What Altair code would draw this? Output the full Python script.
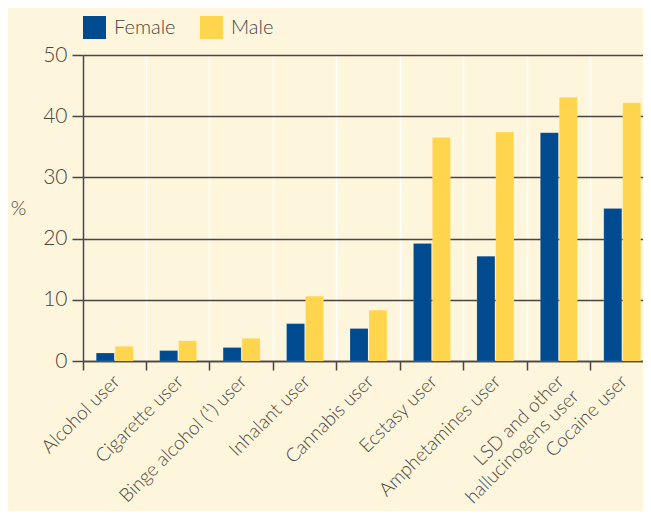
import altair as alt
import pandas as pd

categories = ["Alcohol user", "Cigarette user", "Binge alcohol (¹) user", "Inhalant user",
              "Cannabis user", "Ecstasy user", "Amphetamines user",
              "LSD and other\nhallucinogens user", "Cocaine user"]
female = [1.3, 1.7, 2.2, 6.1, 5.3, 19.2, 17.1, 37.3, 24.9]
male = [2.4, 3.3, 3.7, 10.6, 8.3, 36.5, 37.4, 43.1, 42.2]
groups = ["Female", "Male"]
colors = ["#004a8f", "#ffd54d"]
y_ticks = [0, 10, 20, 30, 40, 50]

rows = []
for c, f, m in zip(categories, female, male):
    rows.append({"cat": c, "sex": "Female", "val": f})
    rows.append({"cat": c, "sex": "Male", "val": m})
df = pd.DataFrame(rows)

TXT = "#4a4642"
FONT = "Lato"
W = 300

chart = alt.Chart(df).mark_bar(stroke="#ffffff", strokeOpacity=0.25, strokeWidth=0.5).encode(
    x=alt.X("cat:N", sort=categories, title=None,
            scale=alt.Scale(paddingInner=0, paddingOuter=0),
            axis=alt.Axis(bandPosition=0, labelAngle=-45, labelAlign="right", labelBaseline="middle",
                          labelOffset=2, labelPadding=8, labelFontSize=19, labelColor=TXT, labelFont=FONT,
                          labelFontWeight=W,
                          labelExpr="split(datum.label, '\\n')", labelLineHeight=21,
                          grid=True, gridColor="#ffffff", gridWidth=1.5,
                          tickColor=TXT, tickSize=9, tickWidth=1.5,
                          domainColor=TXT, domainWidth=1.5)),
    xOffset=alt.XOffset("sex:N", sort=groups,
                        scale=alt.Scale(paddingInner=0.05, paddingOuter=0.7)),
    y=alt.Y("val:Q", title="%",
            scale=alt.Scale(domain=[0, 50], nice=False),
            axis=alt.Axis(values=y_ticks, labelFontSize=21, labelColor=TXT, labelFont=FONT,
                          labelFontWeight=W,
                          labelPadding=5, tickSize=11, tickColor=TXT, tickWidth=1.5,
                          domainColor=TXT, domainWidth=1.5,
                          grid=True, gridColor="#4a4540", gridWidth=1.3,
                          titleAngle=0, titleX=-65, titleY=153, titleAlign="center",
                          titleBaseline="middle", titleFontSize=20, titleFontWeight=W,
                          titleColor=TXT, titleFont=FONT)),
    color=alt.Color("sex:N", sort=groups,
                    scale=alt.Scale(domain=groups, range=colors),
                    legend=alt.Legend(title=None, orient="none", legendX=0, legendY=-39,
                                      direction="horizontal", symbolType="square", symbolSize=529,
                                      symbolStrokeWidth=0, labelFontSize=20, labelColor=TXT,
                                      labelFont=FONT, labelFontWeight=W,
                                      labelOffset=8, columnPadding=24)),
).properties(
    width=571, height=306,
    autosize=alt.AutoSizeParams(type="none"),
    padding={"left": 75, "top": 47, "right": -11, "bottom": 150},
    background="#fdf5dc",
).configure_view(stroke=None, fill="#fdf5dc")

chart.save("out.html", embed_options={"renderer": "svg", "actions": False})
